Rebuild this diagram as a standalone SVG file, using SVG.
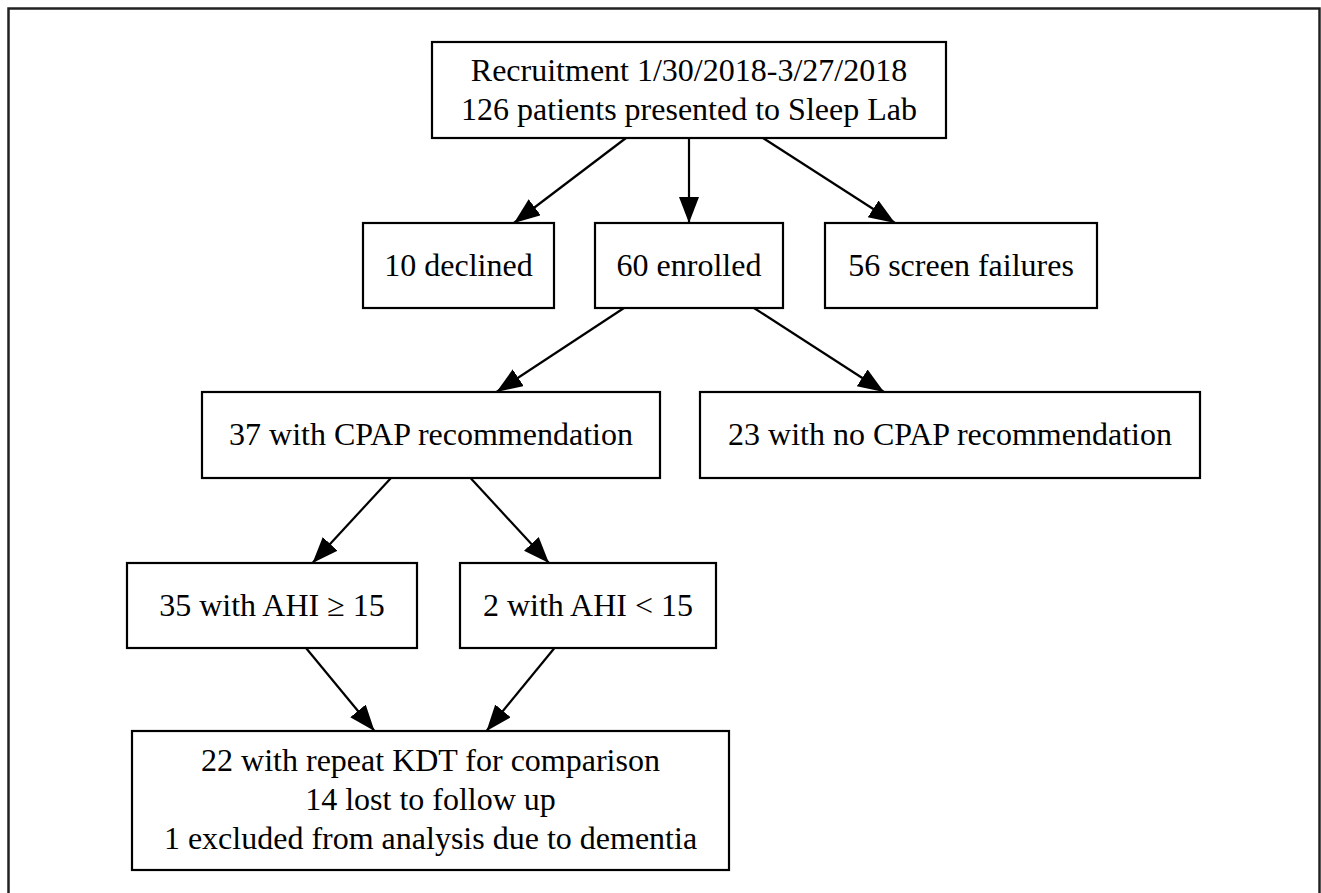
<svg xmlns="http://www.w3.org/2000/svg" width="1321" height="893" viewBox="0 0 1321 893">
<style>
.box{fill:#fff;stroke:#000;stroke-width:2.2}
.t{font-family:"Liberation Serif","Times New Roman",serif;font-size:32px;fill:#000;text-anchor:middle}
.e{stroke:#000;stroke-width:2.2;fill:none;marker-end:url(#ah)}
</style>
<defs>
<marker id="ah" markerUnits="userSpaceOnUse" markerWidth="28" markerHeight="22" refX="26" refY="10" orient="auto">
<path d="M0,0 L26,10 L0,20 Z" fill="#000"/>
</marker>
</defs>
<rect x="0" y="0" width="1321" height="893" fill="#fff"/>
<rect x="8.5" y="8.5" width="1311" height="900" fill="none" stroke="#222" stroke-width="2.5"/>
<g id="connectors">
<line class="e" x1="626" y1="138" x2="514" y2="223"/>
<line class="e" x1="689" y1="138" x2="689" y2="223"/>
<line class="e" x1="763" y1="138" x2="895" y2="223"/>
<line class="e" x1="624" y1="308" x2="496.5" y2="392"/>
<line class="e" x1="754" y1="308" x2="884" y2="392"/>
<line class="e" x1="391" y1="478" x2="312.5" y2="563"/>
<line class="e" x1="470.5" y1="478" x2="549" y2="563"/>
<line class="e" x1="306" y1="648" x2="374.5" y2="731"/>
<line class="e" x1="554.5" y1="648" x2="486.5" y2="731"/>
</g>
<g id="recruitment">
<rect class="box" x="432" y="42" width="514" height="96"/>
<text class="t" x="689" y="80.5">Recruitment 1/30/2018-3/27/2018</text>
<text class="t" x="689" y="119.5">126 patients presented to Sleep Lab</text>
</g>
<g id="declined">
<rect class="box" x="363" y="223" width="191" height="85"/>
<text class="t" x="458.5" y="276">10 declined</text>
</g>
<g id="enrolled">
<rect class="box" x="595" y="223" width="188" height="85"/>
<text class="t" x="689" y="276">60 enrolled</text>
</g>
<g id="screen">
<rect class="box" x="825" y="223" width="272" height="85"/>
<text class="t" x="961" y="276">56 screen failures</text>
</g>
<g id="cpap">
<rect class="box" x="202" y="392" width="458" height="86"/>
<text class="t" x="431" y="445">37 with CPAP recommendation</text>
</g>
<g id="nocpap">
<rect class="box" x="700" y="392" width="500" height="86"/>
<text class="t" x="950" y="445">23 with no CPAP recommendation</text>
</g>
<g id="ahi-high">
<rect class="box" x="127" y="563" width="290" height="85"/>
<text class="t" x="272" y="616">35 with AHI ≥ 15</text>
</g>
<g id="ahi-low">
<rect class="box" x="460" y="563" width="256" height="85"/>
<text class="t" x="588" y="616">2 with AHI &lt; 15</text>
</g>
<g id="followup">
<rect class="box" x="132" y="731" width="597" height="139"/>
<text class="t" x="430.5" y="771">22 with repeat KDT for comparison</text>
<text class="t" x="430.5" y="810">14 lost to follow up</text>
<text class="t" x="430.5" y="849">1 excluded from analysis due to dementia</text>
</g>
</svg>
